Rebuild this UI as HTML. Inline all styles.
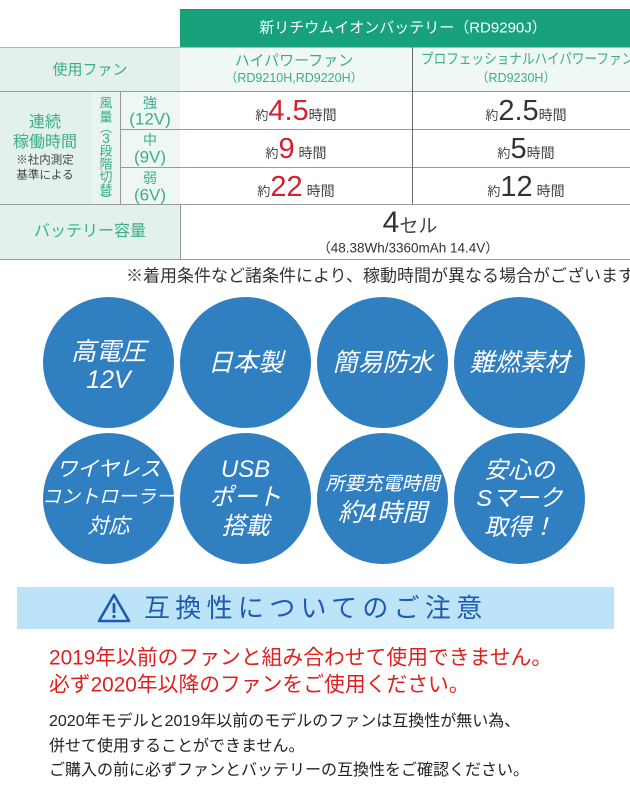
<!DOCTYPE html>
<html><head><meta charset="utf-8">
<style>
*{margin:0;padding:0;box-sizing:border-box}
html,body{width:630px;height:788px;overflow:hidden}
body{background:#fff;position:relative;font-family:"Liberation Sans","Noto Sans CJK JP",sans-serif;}
#w{position:absolute;left:0;top:0;width:630px;height:788px;overflow:hidden}
.a{position:absolute}
.t{position:absolute;white-space:nowrap;line-height:1;transform:translate(-50%,-50%)}
.tl{position:absolute;white-space:nowrap;line-height:1;transform:translateY(-50%)}
.hl{position:absolute;height:1px;background:#9a9a9a}
.vl{position:absolute;width:1px;background:#6a6a6a}
.tea{color:#3aad8b}
.c{position:absolute;width:131px;height:131px;border-radius:50%;background:#2f7fc1;color:#fff;font-style:italic;display:flex;flex-direction:column;align-items:center;justify-content:center;text-align:center;line-height:28px;white-space:nowrap}
.r{color:#d42030}
.k{color:#333}
.sm{font-size:13px;color:#444}
.num{font-size:29px}
.hr{font-size:14px;color:#444}
.cell{position:absolute;display:flex;align-items:baseline;justify-content:center;white-space:nowrap;line-height:1}
.clip{position:absolute;overflow:hidden}
.v{position:absolute;white-space:nowrap;line-height:1;transform:translate(-50%,-50%);font-size:13px;color:#3aad8b}
</style></head><body><div id="w">

<!-- green header -->
<div class="a" style="left:180px;top:9px;width:450px;height:38px;background:#17a27c;border-top:1px solid #2b8a68"></div>
<div class="t" style="left:403px;top:28px;font-size:15px;color:#fff">新リチウムイオンバッテリー（RD9290J）</div>

<!-- backgrounds -->
<div class="a" style="left:0;top:47px;width:180px;height:44px;background:#e3f1eb"></div>
<div class="a" style="left:180px;top:47px;width:450px;height:44px;background:#f0f8f5"></div>
<div class="a" style="left:0;top:91px;width:92px;height:113px;background:#e3f1eb"></div>
<div class="a" style="left:92px;top:91px;width:28px;height:113px;background:#eaf5f0"></div>
<div class="a" style="left:120px;top:91px;width:60px;height:113px;background:#eef7f3"></div>
<div class="a" style="left:0;top:204px;width:180px;height:55px;background:#e3f1eb"></div>

<!-- lines -->
<div class="hl" style="left:0;top:47px;width:630px;background:#b5b5b5"></div>
<div class="hl" style="left:0;top:91px;width:630px"></div>
<div class="hl" style="left:120px;top:129px;width:510px"></div>
<div class="hl" style="left:120px;top:167px;width:510px"></div>
<div class="hl" style="left:0;top:204px;width:630px"></div>
<div class="hl" style="left:0;top:259px;width:630px"></div>
<div class="vl" style="left:412px;top:47px;height:157px"></div>
<div class="vl" style="left:120px;top:91px;height:113px;background:#999"></div>
<div class="vl" style="left:180px;top:204px;height:55px;background:#999"></div>

<!-- row 1 -->
<div class="t tea" style="left:90px;top:70px;font-size:15px">使用ファン</div>
<div class="t tea" style="left:294px;top:61px;font-size:15px">ハイパワーファン</div>
<div class="t tea" style="left:294px;top:78px;font-size:12.5px">（RD9210H,RD9220H）</div>
<div class="clip" style="left:413px;top:50px;width:217px;height:22px">
<div class="tea" style="position:absolute;left:8px;top:3px;font-size:14.5px;line-height:1;white-space:nowrap;transform:scaleX(0.87);transform-origin:0 0">プロフェッショナルハイパワーファン</div>
</div>
<div class="t tea" style="left:516px;top:78px;font-size:12.5px">（RD9230H）</div>

<!-- left labels -->
<div class="t tea" style="left:45px;top:123px;font-size:16px">連続</div>
<div class="t tea" style="left:45px;top:143px;font-size:16px">稼働時間</div>
<div class="t" style="left:45px;top:161px;font-size:11.5px;color:#444">※社内測定</div>
<div class="t" style="left:45px;top:176px;font-size:11.5px;color:#444">基準による</div>

<!-- vertical 風量 -->
<div class="v" style="left:106px;top:103px">風</div>
<div class="v" style="left:106px;top:117px">量</div>
<div class="v" style="left:106px;top:128px;font-size:12px">︵</div>
<div class="v" style="left:106px;top:138px;font-size:14px">3</div>
<div class="v" style="left:106px;top:151px">段</div>
<div class="v" style="left:106px;top:164px">階</div>
<div class="v" style="left:106px;top:177px">切</div>
<div class="v" style="left:106px;top:190px">替</div>
<div class="v" style="left:106px;top:200px;font-size:12px">︶</div>

<!-- strength labels -->
<div class="t tea" style="left:150px;top:103px;font-size:14px">強</div>
<div class="t tea" style="left:150px;top:119px;font-size:17px">(12V)</div>
<div class="t tea" style="left:150px;top:140px;font-size:14px">中</div>
<div class="t tea" style="left:150px;top:157px;font-size:17px">(9V)</div>
<div class="t tea" style="left:150px;top:178px;font-size:14px">弱</div>
<div class="t tea" style="left:150px;top:195px;font-size:17px">(6V)</div>

<!-- data col 1 -->
<div class="cell" style="left:180px;width:232px;top:97px"><span class="sm">約</span><span class="num r">4.5</span><span class="hr">時間</span></div>
<div class="cell" style="left:180px;width:232px;top:135px"><span class="sm">約</span><span class="num r">9</span><span class="hr">&nbsp;時間</span></div>
<div class="cell" style="left:180px;width:232px;top:173px"><span class="sm">約</span><span class="num r">22</span><span class="hr">&nbsp;時間</span></div>
<!-- data col 2 -->
<div class="cell" style="left:412px;width:218px;top:97px;padding-left:10px"><span class="sm">約</span><span class="num k">2.5</span><span class="hr">時間</span></div>
<div class="cell" style="left:412px;width:218px;top:135px;padding-left:10px"><span class="sm">約</span><span class="num k">5</span><span class="hr">時間</span></div>
<div class="cell" style="left:412px;width:218px;top:173px;padding-left:10px"><span class="sm">約</span><span class="num k">12</span><span class="hr">&nbsp;時間</span></div>

<!-- battery -->
<div class="t tea" style="left:90px;top:232px;font-size:16px">バッテリー容量</div>
<div class="cell" style="left:180px;width:450px;top:208px;padding-left:10px"><span style="font-size:30px;color:#333">4</span><span style="font-size:19px;color:#444">セル</span></div>
<div class="t" style="left:408px;top:248px;font-size:13.5px;color:#333">（48.38Wh/3360mAh 14.4V）</div>

<!-- note -->
<div class="clip" style="left:120px;top:264px;width:510px;height:24px">
<div class="tl" style="left:6px;top:12px;font-size:17px;color:#333">※着用条件など諸条件により、稼動時間が異なる場合がございます</div>
</div>

<!-- circles row 1 -->
<div class="c" style="left:43px;top:297px;font-size:25px;padding-top:6px"><div>高電圧</div><div>12V</div></div>
<div class="c" style="left:180px;top:297px;font-size:25px"><div>日本製</div></div>
<div class="c" style="left:317px;top:297px;font-size:25px"><div>簡易防水</div></div>
<div class="c" style="left:454px;top:297px;font-size:25px"><div>難燃素材</div></div>

<!-- circles row 2 -->
<div class="c" style="left:43px;top:433px;line-height:28.5px"><div style="font-size:21px">ワイヤレス</div><div style="font-size:19px">コントローラー</div><div style="font-size:21px">対応</div></div>
<div class="c" style="left:180px;top:433px;line-height:28.5px;font-size:24px"><div>USB</div><div>ポート</div><div>搭載</div></div>
<div class="c" style="left:317px;top:433px;line-height:29px"><div style="font-size:19px">所要充電時間</div><div style="font-size:25px">約4時間</div></div>
<div class="c" style="left:454px;top:433px;line-height:28.5px;font-size:23.5px"><div>安心の</div><div>Sマーク</div><div>取得！</div></div>

<!-- warning band -->
<div class="a" style="left:17px;top:587px;width:597px;height:42px;background:#bde3f8"></div>
<svg class="a" style="left:96px;top:592px" width="36" height="32" viewBox="0 0 36 32">
<path d="M18 3 L33 29 L3 29 Z" fill="none" stroke="#1b5bb0" stroke-width="2.6" stroke-linejoin="round"/>
<rect x="16.6" y="11" width="2.8" height="10" fill="#1b5bb0"/>
<circle cx="18" cy="24.5" r="1.6" fill="#1b5bb0"/>
</svg>
<div class="tl" style="left:144px;top:608px;font-size:26px;letter-spacing:5.3px;color:#1b5bb0">互換性についてのご注意</div>

<!-- red text -->
<div class="tl" style="left:49px;top:659px;font-size:20.8px;color:#e0201e">2019年以前のファンと組み合わせて使用できません。</div>
<div class="tl" style="left:49px;top:686px;font-size:20.8px;color:#e0201e">必ず2020年以降のファンをご使用ください。</div>

<!-- black text -->
<div class="tl" style="left:49px;top:722px;font-size:16px;color:#222">2020年モデルと2019年以前のモデルのファンは互換性が無い為、</div>
<div class="tl" style="left:49px;top:747px;font-size:16px;color:#222">併せて使用することができません。</div>
<div class="tl" style="left:49px;top:771px;font-size:16px;color:#222">ご購入の前に必ずファンとバッテリーの互換性をご確認ください。</div>

</div></body></html>
